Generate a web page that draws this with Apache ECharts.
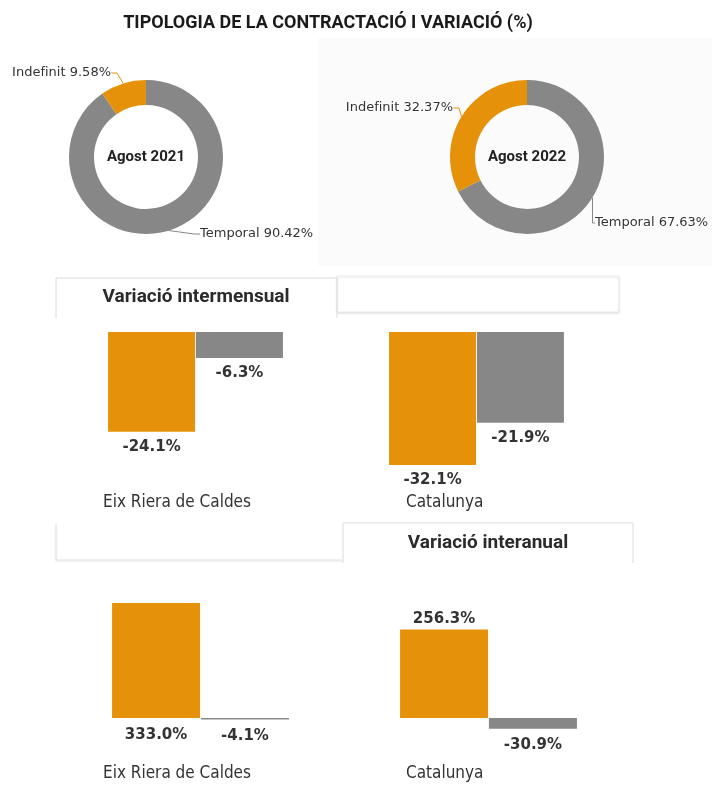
<!DOCTYPE html>
<html lang="ca">
<head>
<meta charset="UTF-8">
<title>Tipologia de la contractació i variació</title>
<script src="https://cdn.jsdelivr.net/npm/echarts@6/dist/echarts.min.js"></script>
<style>html,body{margin:0;padding:0;background:#fff}</style>
</head>
<body>
<div id="chart" style="width:712px;height:785px"></div>
<script>
// dades
var tipus = ['Temporal', 'Indefinit'];
var agost2021 = [90.42, 9.58];
var agost2022 = [67.63, 32.37];
var territoris = ['Eix Riera de Caldes', 'Catalunya'];
var intermensualIndefinit = [-24.1, -32.1];
var intermensualTemporal = [-6.3, -21.9];
var interanualIndefinit = [333.0, 256.3];
var interanualTemporal = [-4.1, -30.9];

var taronja = '#E5920A';
var gris = '#878787';
var narrow = '"Liberation Sans Narrow", "DejaVu Sans Condensed", sans-serif';

var chart = echarts.init(document.getElementById('chart'));

function pieData(vals) {
    return vals.map(function (v, i) {
        return { name: tipus[i], value: v, itemStyle: { color: i === 0 ? gris : taronja } };
    });
}

function pieLabels(pos) {
    return function (params) {
        var p = pos[params.dataIndex];
        return { x: p[0], y: p[1], align: p[2], verticalAlign: 'middle' };
    };
}

function pct(p) {
    return p.value.toFixed(1) + '%';
}

var barLabel = {
    show: true,
    position: 'bottom',
    distance: 8,
    formatter: pct,
    fontFamily: 'DejaVu Sans',
    fontWeight: 'bold',
    fontSize: 15,
    color: '#333'
};

function catLabel(margin, w0, w1) {
    var st = { fontFamily: narrow, fontSize: 17, color: '#333', align: 'left' };
    return {
        margin: margin,
        interval: 0,
        fontFamily: narrow,
        fontSize: 17,
        color: '#333',
        formatter: function (v, i) { return '{c' + i + '|' + v + '}'; },
        rich: {
            c0: Object.assign({ width: w0 }, st),
            c1: Object.assign({ width: w1 }, st)
        }
    };
}

function tabText(txt, x, y) {
    return {
        type: 'text', x: x, y: y,
        style: {
            text: txt, fill: '#2b2b2b', font: 'bold 19px Roboto',
            align: 'center', verticalAlign: 'middle',
            textAlign: 'center', textVerticalAlign: 'middle'
        }
    };
}

var posAnual = ['bottom', 'top'];
var pieLabelStyle = { fontFamily: 'DejaVu Sans', fontSize: 13, formatter: '{b} {c}%', overflow: 'none', width: 200 };

var option = {
    animation: false,
    graphic: [
        { type: 'rect', z: -10, shape: { x: 318, y: 38, width: 394, height: 228 }, style: { fill: '#fbfbfb' } },
        {
            type: 'text', x: 328, y: 23,
            style: {
                text: 'TIPOLOGIA DE LA CONTRACTACIÓ I VARIACIÓ (%)', fill: '#1a1a1a',
                font: 'bold 18px Roboto', align: 'center', verticalAlign: 'middle',
                textAlign: 'center', textVerticalAlign: 'middle'
            }
        },
        {
            type: 'text', x: 146, y: 157,
            style: { text: 'Agost 2021', fill: '#222', font: 'bold 15px Roboto', align: 'center', verticalAlign: 'middle', textAlign: 'center', textVerticalAlign: 'middle' }
        },
        {
            type: 'text', x: 527, y: 157,
            style: { text: 'Agost 2022', fill: '#222', font: 'bold 15px Roboto', align: 'center', verticalAlign: 'middle', textAlign: 'center', textVerticalAlign: 'middle' }
        },
        // pestanyes intermensual
        {
            type: 'rect', shape: { x: 337, y: 276, width: 282, height: 36 },
            style: { fill: '#fff', stroke: '#ececec', shadowBlur: 2, shadowOffsetY: 1, shadowColor: 'rgba(0,0,0,0.12)' }
        },
        {
            type: 'polyline', shape: { points: [[56, 318], [56, 278], [337, 278], [337, 318]] },
            style: { stroke: '#dcdcdc', fill: null, lineWidth: 1 }
        },
        tabText('Variació intermensual', 196, 297),
        // pestanyes interanual
        {
            type: 'polyline', shape: { points: [[56, 524], [56, 560], [343, 560]] },
            style: { stroke: '#e2e2e2', fill: null, lineWidth: 1, shadowBlur: 2, shadowOffsetY: 1, shadowColor: 'rgba(0,0,0,0.12)' }
        },
        {
            type: 'polyline', shape: { points: [[343, 563], [343, 523], [633, 523], [633, 563]] },
            style: { stroke: '#dcdcdc', fill: null, lineWidth: 1 }
        },
        tabText('Variació interanual', 488, 543)
    ],
    grid: [
        { left: 55, top: 332, width: 562, height: 157.3 },
        { left: 56.5, top: 600.7, width: 576, height: 151.8 }
    ],
    xAxis: [
        {
            type: 'category', gridIndex: 0, data: territoris,
            axisLine: { show: false }, axisTick: { show: false },
            axisLabel: catLabel(5, 185, 141)
        },
        {
            type: 'category', gridIndex: 1, data: territoris,
            axisLine: { show: false }, axisTick: { show: false },
            axisLabel: catLabel(13, 195, 165)
        }
    ],
    yAxis: [
        { type: 'value', gridIndex: 0, min: -38, max: 0, show: false },
        { type: 'value', gridIndex: 1, min: -100, max: 340, show: false }
    ],
    series: [
        {
            type: 'pie', center: [146, 157], radius: [52, 77],
            data: pieData(agost2021),
            label: pieLabelStyle,
            labelLine: { length: 6, length2: 6, lineStyle: { width: 1 } },
            labelLayout: pieLabels([[200, 234, 'left'], [111, 73, 'right']]),
            emphasis: { disabled: true }
        },
        {
            type: 'pie', center: [527, 157], radius: [52, 77],
            data: pieData(agost2022),
            label: pieLabelStyle,
            labelLine: { length: 6, length2: 6, lineStyle: { width: 1 } },
            labelLayout: pieLabels([[595, 223, 'left'], [453, 108, 'right']]),
            emphasis: { disabled: true }
        },
        {
            name: 'Indefinit', type: 'bar', xAxisIndex: 0, yAxisIndex: 0,
            data: intermensualIndefinit, barWidth: 87, barGap: '1%',
            itemStyle: { color: taronja }, label: barLabel
        },
        {
            name: 'Temporal', type: 'bar', xAxisIndex: 0, yAxisIndex: 0,
            data: intermensualTemporal, barWidth: 87, barGap: '1%',
            itemStyle: { color: gris }, label: barLabel
        },
        {
            name: 'Indefinit', type: 'bar', xAxisIndex: 1, yAxisIndex: 1,
            data: interanualIndefinit.map(function (v, i) {
                return { value: v, label: { position: posAnual[i], distance: i === 0 ? 10 : 3 } };
            }),
            barWidth: 88, barGap: '1%',
            itemStyle: { color: taronja }, label: barLabel
        },
        {
            name: 'Temporal', type: 'bar', xAxisIndex: 1, yAxisIndex: 1,
            data: interanualTemporal, barWidth: 88, barGap: '1%',
            itemStyle: { color: gris }, label: Object.assign({}, barLabel, { distance: 9 })
        }
    ]
};

chart.setOption(option);
</script>
</body>
</html>
